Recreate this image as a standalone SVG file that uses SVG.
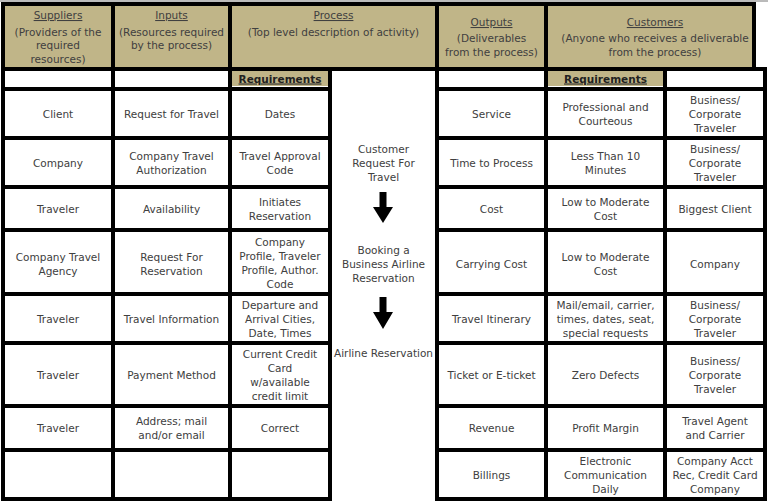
<svg xmlns="http://www.w3.org/2000/svg" width="768" height="503" viewBox="0 0 768 503">
<style>
.c{fill:#ffffff;stroke:#000000;stroke-width:4}
.h{fill:#c0b588;stroke:#000000;stroke-width:4}
.r{fill:#c0b588}
text{font-family:"DejaVu Sans","Verdana",sans-serif;font-size:10.5px;fill:#404040;text-anchor:middle}
.u{text-decoration:underline}
.rq{font-weight:bold;fill:#222222;text-decoration:underline}
.arr{fill:#000000}
</style>
<rect x="0" y="0" width="768" height="503" fill="#ffffff"/>
<g id="topedge" stroke="#777" stroke-width="1">
<line x1="0" y1="1" x2="768" y2="1"/>
</g>
<!-- header -->
<g id="h-suppliers"><rect class="h" x="3" y="4" width="110" height="65"/>
<text x="58" y="19" class="u">Suppliers</text><text x="58" y="35.5">(Providers of the</text><text x="58" y="49">required</text><text x="58" y="62.5">resources)</text></g>
<g id="h-inputs"><rect class="h" x="113" y="4" width="117" height="65"/>
<text x="171.5" y="19" class="u">Inputs</text><text x="171.5" y="35.5">(Resources required</text><text x="171.5" y="49">by the process)</text></g>
<g id="h-process"><rect class="h" x="230" y="4" width="207" height="65"/>
<text x="333.5" y="19" class="u">Process</text><text x="333.5" y="35.5">(Top level description of activity)</text></g>
<g id="h-outputs"><rect class="h" x="437" y="4" width="109" height="65"/>
<text x="491.5" y="26" class="u">Outputs</text><text x="491.5" y="42">(Deliverables</text><text x="491.5" y="56">from the process)</text></g>
<g id="h-customers"><rect class="h" x="546" y="4" width="208" height="65"/>
<text x="655" y="26" class="u">Customers</text><text x="655" y="42">(Anyone who receives a deliverable</text><text x="655" y="56">from the process)</text></g>
<!-- blank / requirements row -->
<g id="b1"><rect class="c" x="3" y="69" width="110" height="20"/></g>
<g id="b2"><rect class="c" x="113" y="69" width="117" height="20"/></g>
<g id="req-process"><rect class="c" x="230" y="69" width="100" height="20"/><rect class="r" x="232" y="71" width="96" height="15"/><text x="280" y="82.5" class="rq">Requirements</text></g>
<g id="b4"><rect class="c" x="437" y="69" width="109" height="20"/></g>
<g id="req-customer"><rect class="c" x="546" y="69" width="119" height="20"/><rect class="r" x="548" y="71" width="115" height="15"/><text x="605.5" y="82.5" class="rq">Requirements</text></g>
<g id="b6"><rect class="c" x="665" y="69" width="100" height="20"/></g>
<!-- left table body -->
<g id="left-body">
<rect class="c" x="3" y="89" width="110" height="49"/><rect class="c" x="113" y="89" width="117" height="49"/><rect class="c" x="230" y="89" width="100" height="49"/>
<rect class="c" x="3" y="138" width="110" height="49"/><rect class="c" x="113" y="138" width="117" height="49"/><rect class="c" x="230" y="138" width="100" height="49"/>
<rect class="c" x="3" y="187" width="110" height="43"/><rect class="c" x="113" y="187" width="117" height="43"/><rect class="c" x="230" y="187" width="100" height="43"/>
<rect class="c" x="3" y="230" width="110" height="64"/><rect class="c" x="113" y="230" width="117" height="64"/><rect class="c" x="230" y="230" width="100" height="64"/>
<rect class="c" x="3" y="294" width="110" height="49"/><rect class="c" x="113" y="294" width="117" height="49"/><rect class="c" x="230" y="294" width="100" height="49"/>
<rect class="c" x="3" y="343" width="110" height="63"/><rect class="c" x="113" y="343" width="117" height="63"/><rect class="c" x="230" y="343" width="100" height="63"/>
<rect class="c" x="3" y="406" width="110" height="44"/><rect class="c" x="113" y="406" width="117" height="44"/><rect class="c" x="230" y="406" width="100" height="44"/>
<rect class="c" x="3" y="450" width="110" height="49"/><rect class="c" x="113" y="450" width="117" height="49"/><rect class="c" x="230" y="450" width="100" height="49"/>
</g>
<!-- process separator line -->
<g id="process-right"><line x1="437" y1="69" x2="437" y2="499" stroke="#000" stroke-width="4"/></g>
<!-- right table body -->
<g id="right-body">
<rect class="c" x="437" y="89" width="109" height="49"/><rect class="c" x="546" y="89" width="119" height="49"/><rect class="c" x="665" y="89" width="100" height="49"/>
<rect class="c" x="437" y="138" width="109" height="49"/><rect class="c" x="546" y="138" width="119" height="49"/><rect class="c" x="665" y="138" width="100" height="49"/>
<rect class="c" x="437" y="187" width="109" height="43"/><rect class="c" x="546" y="187" width="119" height="43"/><rect class="c" x="665" y="187" width="100" height="43"/>
<rect class="c" x="437" y="230" width="109" height="64"/><rect class="c" x="546" y="230" width="119" height="64"/><rect class="c" x="665" y="230" width="100" height="64"/>
<rect class="c" x="437" y="294" width="109" height="49"/><rect class="c" x="546" y="294" width="119" height="49"/><rect class="c" x="665" y="294" width="100" height="49"/>
<rect class="c" x="437" y="343" width="109" height="63"/><rect class="c" x="546" y="343" width="119" height="63"/><rect class="c" x="665" y="343" width="100" height="63"/>
<rect class="c" x="437" y="406" width="109" height="44"/><rect class="c" x="546" y="406" width="119" height="44"/><rect class="c" x="665" y="406" width="100" height="44"/>
<rect class="c" x="437" y="450" width="109" height="49"/><rect class="c" x="546" y="450" width="119" height="49"/><rect class="c" x="665" y="450" width="100" height="49"/>
</g>
<!-- row texts -->
<g id="row1">
<text x="58" y="117.5">Client</text>
<text x="171.5" y="117.5">Request for Travel</text>
<text x="280" y="117.5">Dates</text>
<text x="491.5" y="117.5">Service</text>
<text x="605.5" y="110.5">Professional and</text><text x="605.5" y="124.5">Courteous</text>
<text x="715" y="103.5">Business/</text><text x="715" y="117.5">Corporate</text><text x="715" y="131.5">Traveler</text>
</g>
<g id="row2">
<text x="58" y="166.5">Company</text>
<text x="171.5" y="159.5">Company Travel</text><text x="171.5" y="173.5">Authorization</text>
<text x="280" y="159.5">Travel Approval</text><text x="280" y="173.5">Code</text>
<text x="491.5" y="166.5">Time to Process</text>
<text x="605.5" y="159.5">Less Than 10</text><text x="605.5" y="173.5">Minutes</text>
<text x="715" y="152.5">Business/</text><text x="715" y="166.5">Corporate</text><text x="715" y="180.5">Traveler</text>
</g>
<g id="row3">
<text x="58" y="212.5">Traveler</text>
<text x="171.5" y="212.5">Availability</text>
<text x="280" y="205.5">Initiates</text><text x="280" y="219.5">Reservation</text>
<text x="491.5" y="212.5">Cost</text>
<text x="605.5" y="205.5">Low to Moderate</text><text x="605.5" y="219.5">Cost</text>
<text x="715" y="212.5">Biggest Client</text>
</g>
<g id="row4">
<text x="58" y="261">Company Travel</text><text x="58" y="275">Agency</text>
<text x="171.5" y="261">Request For</text><text x="171.5" y="275">Reservation</text>
<text x="280" y="246">Company</text><text x="280" y="260">Profile, Traveler</text><text x="280" y="274">Profile, Author.</text><text x="280" y="288">Code</text>
<text x="491.5" y="268">Carrying Cost</text>
<text x="605.5" y="261">Low to Moderate</text><text x="605.5" y="275">Cost</text>
<text x="715" y="268">Company</text>
</g>
<g id="row5">
<text x="58" y="322.5">Traveler</text>
<text x="171.5" y="322.5">Travel Information</text>
<text x="280" y="308.5">Departure and</text><text x="280" y="322.5">Arrival Cities,</text><text x="280" y="336.5">Date, Times</text>
<text x="491.5" y="322.5">Travel Itinerary</text>
<text x="605.5" y="308.5">Mail/email, carrier,</text><text x="605.5" y="322.5">times, dates, seat,</text><text x="605.5" y="336.5">special requests</text>
<text x="715" y="308.5">Business/</text><text x="715" y="322.5">Corporate</text><text x="715" y="336.5">Traveler</text>
</g>
<g id="row6">
<text x="58" y="379">Traveler</text>
<text x="171.5" y="379">Payment Method</text>
<text x="280" y="357.5">Current Credit</text><text x="280" y="371.5">Card</text><text x="280" y="385.5">w/available</text><text x="280" y="399.5">credit limit</text>
<text x="491.5" y="379">Ticket or E-ticket</text>
<text x="605.5" y="379">Zero Defects</text>
<text x="715" y="365">Business/</text><text x="715" y="379">Corporate</text><text x="715" y="393">Traveler</text>
</g>
<g id="row7">
<text x="58" y="432">Traveler</text>
<text x="171.5" y="425">Address; mail</text><text x="171.5" y="439">and/or email</text>
<text x="280" y="432">Correct</text>
<text x="491.5" y="432">Revenue</text>
<text x="605.5" y="432">Profit Margin</text>
<text x="715" y="425">Travel Agent</text><text x="715" y="439">and Carrier</text>
</g>
<g id="row8">
<text x="491.5" y="478.5">Billings</text>
<text x="605.5" y="464.5">Electronic</text><text x="605.5" y="478.5">Communication</text><text x="605.5" y="492.5">Daily</text>
<text x="715" y="464.5">Company Acct</text><text x="715" y="478.5">Rec, Credit Card</text><text x="715" y="492.5">Company</text>
</g>
<!-- process steps -->
<g id="step1"><text x="383.5" y="152.5">Customer</text><text x="383.5" y="166.5">Request For</text><text x="383.5" y="180.5">Travel</text></g>
<g id="step2"><text x="383.5" y="254">Booking a</text><text x="383.5" y="268">Business Airline</text><text x="383.5" y="282">Reservation</text></g>
<g id="step3"><text x="383.5" y="357">Airline Reservation</text></g>
<g id="connectors">
<path class="arr" d="M379.5,192 H386.5 V207 H393 L383,223 L373,207 H379.5 Z"/>
<path class="arr" d="M379.5,297 H386.5 V312 H393 L383,329 L373,312 H379.5 Z"/>
</g>
</svg>
